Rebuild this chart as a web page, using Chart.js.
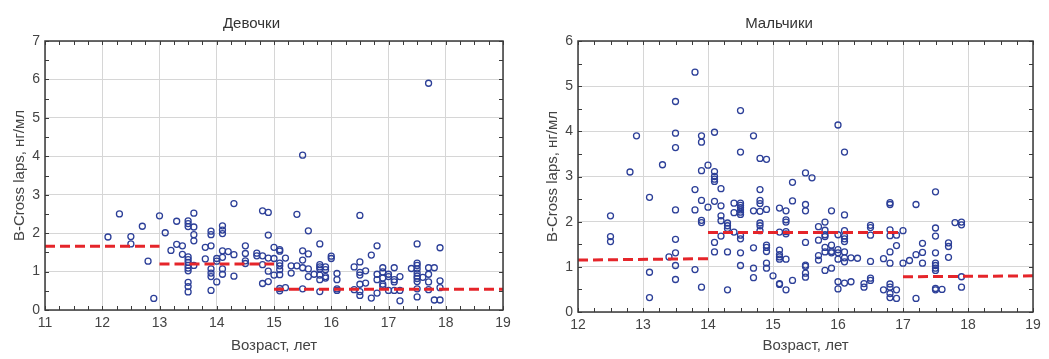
<!DOCTYPE html>
<html lang="ru">
<head>
<meta charset="UTF-8">
<title>B-Cross laps</title>
<style>
  body { margin: 0; background: #fff; }
  .box { position: absolute; top: 0; width: 524px; height: 359px; }
</style>
</head>
<body>
<div class="box" style="left:0"><canvas id="girls" width="524" height="359"></canvas></div>
<div class="box" style="left:525px"><canvas id="boys" width="524" height="359"></canvas></div>

<script src="https://cdn.jsdelivr.net/npm/chart.js"></script>
<script>
// Девочки: возраст -> значения B-Cross laps
const girlsAges = [12.1, 12.3, 12.5, 12.7, 12.8, 12.9, 13.0, 13.1, 13.2, 13.3, 13.4, 13.5, 13.6, 13.8, 13.9,
  14.0, 14.1, 14.2, 14.3, 14.5, 14.7, 14.8, 14.9, 15.0, 15.1, 15.2, 15.3, 15.4, 15.5, 15.6, 15.7, 15.8, 15.9,
  16.0, 16.1, 16.4, 16.5, 16.6, 16.7, 16.8, 16.9, 17.0, 17.1, 17.2, 17.4, 17.5, 17.6, 17.7, 17.8, 17.9];
const girlsValues = [
  [1.90], [2.50], [1.91, 1.72], [2.18], [1.27], [0.30], [2.45], [2.01], [1.55], [2.31, 1.71], [1.67, 1.45],
  [2.32, 2.25, 2.17, 1.38, 1.31, 1.24, 1.16, 1.09, 1.02, 0.72, 0.61, 0.47],
  [2.52, 2.16, 1.96, 1.80, 1.16], [1.63, 1.33], [2.05, 1.96, 1.67, 1.07, 0.96, 0.87, 0.51],
  [1.34, 1.27, 0.73], [2.19, 2.08, 1.99, 1.54, 1.37, 1.07, 0.93], [1.52], [2.77, 1.44, 0.88],
  [1.67, 1.47, 1.28, 1.21], [1.48, 1.41], [2.58, 1.41, 1.18, 0.69], [2.54, 1.95, 1.35, 1.01, 0.74],
  [1.63, 1.34, 0.91], [1.57, 1.53, 1.22, 1.15, 1.05, 0.92, 0.56, 0.50], [1.35, 0.58], [1.15, 0.96],
  [2.49, 1.15], [4.03, 1.54, 1.30, 1.10, 0.55], [2.06, 1.46, 1.07, 0.87], [0.93],
  [1.72, 1.18, 1.12, 1.07, 0.91, 0.79, 0.48], [1.12, 1.05, 0.87, 0.83],
  [1.40, 1.34], [0.95, 0.79, 0.55, 0.51], [1.12, 0.53], [2.46, 1.25, 0.98, 0.91, 0.67, 0.48, 0.38],
  [1.02, 0.70], [1.43, 0.31], [1.67, 0.93, 0.79, 0.44], [1.10, 0.99, 0.83, 0.67, 0.62], [0.93, 0.87, 0.51],
  [1.10, 0.79, 0.73, 0.51], [0.87, 0.51, 0.24], [1.08],
  [1.72, 1.22, 1.16, 1.07, 0.96, 0.88, 0.82, 0.74, 0.55, 0.34], [0.85], [5.90, 1.10, 0.93, 0.73, 0.53],
  [1.10, 0.26], [1.62, 0.76, 0.58, 0.26]
];
// средние по возрастным группам (начало, конец)
const girlsMeanX = [[11, 13], [13, 15], [15, 19]];
const girlsMeanY = [[1.66, 1.66], [1.20, 1.20], [0.54, 0.54]];

// Мальчики
const boysAges = [12.5, 12.8, 12.9, 13.1, 13.3, 13.4, 13.5, 13.8, 13.9, 14.0, 14.1, 14.2, 14.3, 14.4, 14.5,
  14.7, 14.8, 14.9, 15.0, 15.1, 15.2, 15.3, 15.5, 15.6, 15.7, 15.8, 15.9, 16.0, 16.1, 16.2, 16.3, 16.4, 16.5,
  16.7, 16.8, 16.9, 17.0, 17.1, 17.2, 17.3, 17.5, 17.6, 17.7, 17.8, 17.9];
const boysValues = [
  [2.13, 1.67, 1.56], [3.10], [3.90], [2.54, 0.88, 0.32], [3.26], [1.22],
  [4.66, 3.96, 3.64, 2.26, 1.61, 1.31, 1.03, 0.72], [5.31, 2.71, 2.26, 0.94],
  [3.90, 3.76, 3.13, 2.47, 2.03, 1.98, 0.55], [3.25, 2.32],
  [3.98, 3.11, 3.00, 2.94, 2.89, 2.45, 1.54, 1.33], [2.73, 2.35, 2.13, 2.02, 1.68],
  [1.97, 1.91, 1.85, 1.33, 0.49], [2.41, 2.20, 1.77],
  [4.46, 3.54, 2.41, 2.36, 2.31, 2.26, 2.21, 2.16, 1.70, 1.62, 1.31, 1.03],
  [3.90, 2.24, 1.42, 0.97, 0.76], [3.40, 2.71, 2.47, 2.40, 2.23, 1.97, 1.91, 1.80],
  [3.38, 2.27, 1.48, 1.43, 1.34, 1.08, 0.97], [0.80],
  [2.30, 1.77, 1.37, 1.27, 1.22, 1.17, 0.63, 0.61], [2.24, 2.04, 1.99, 1.78, 1.73, 1.17, 0.49],
  [2.87, 2.46, 0.70], [3.08, 2.38, 2.24, 1.54, 1.04, 1.01, 0.86, 0.77], [2.97],
  [1.89, 1.59, 1.25, 1.15], [1.99, 1.81, 1.71, 1.67, 1.43, 1.33, 0.92], [2.24, 1.48, 1.34, 1.31, 0.97],
  [4.14, 1.71, 1.38, 1.31, 1.17, 0.67, 0.51], [3.54, 2.15, 1.80, 1.68, 1.62, 1.56, 1.33, 1.20, 1.11, 0.64],
  [1.20, 0.67], [1.19], [0.63, 0.55], [1.92, 1.87, 1.70, 1.12, 0.75, 0.70],
  [1.18, 0.49], [2.42, 2.38, 1.82, 1.69, 1.33, 1.08, 0.62, 0.55, 0.41, 0.32], [1.70, 1.47, 0.49, 0.30],
  [1.80, 1.08], [1.14], [2.38, 1.27, 0.30], [1.52, 1.32, 1.08],
  [2.66, 1.86, 1.68, 1.31, 1.08, 1.03, 0.97, 0.92, 0.52, 0.49], [0.50], [1.53, 1.45, 1.21], [1.98],
  [1.99, 1.93, 0.78, 0.55]
];
const boysMeanX = [[12, 14], [14, 17], [17, 19]];
const boysMeanY = [[1.15, 1.18], [1.76, 1.76], [0.78, 0.80]];

const FONT = "'Liberation Sans', Arial, sans-serif";
const BLUE = '#2c3f98';
const RED = '#e5252a';

function toPoints(ages, values) {
  let pts = [];
  ages.forEach(function (a, i) {
    values[i].forEach(function (v) { pts.push({ x: a, y: v }); });
  });
  return pts;
}

// рамка и мелкие засечки внутрь
const framePlugin = {
  id: 'frame',
  afterDraw(chart) {
    const c = chart.ctx, a = chart.chartArea;
    const xs = chart.scales.x, ys = chart.scales.y;
    c.save();
    c.strokeStyle = '#3a3a3a';
    c.lineWidth = 1;
    c.beginPath();
    for (let v = xs.min; v <= xs.max + 0.001; v += 0.25) {
      const px = Math.round(xs.getPixelForValue(v)) + 0.5;
      c.moveTo(px, a.bottom); c.lineTo(px, a.bottom - 4);
      c.moveTo(px, a.top); c.lineTo(px, a.top + 4);
    }
    for (let v = ys.min; v <= ys.max + 0.001; v += 0.5) {
      const py = Math.round(ys.getPixelForValue(v)) + 0.5;
      c.moveTo(a.left, py); c.lineTo(a.left + 4, py);
      c.moveTo(a.right, py); c.lineTo(a.right - 4, py);
    }
    c.stroke();
    c.lineWidth = 1.5;
    c.strokeRect(a.left, a.top, a.right - a.left, a.bottom - a.top);
    c.restore();
  }
};

function makeChart(id, title, ages, values, meanX, meanY, xMin, yMax, yWidth, xHeight, padRight, yTitlePad) {
  let datasets = [];
  datasets.push({
    type: 'scatter',
    data: toPoints(ages, values),
    pointStyle: 'circle',
    pointRadius: 3,
    pointBorderWidth: 1.3,
    pointBorderColor: BLUE,
    pointBackgroundColor: 'rgba(255,255,255,0)',
    order: 1
  });
  meanX.forEach(function (seg, i) {
    datasets.push({
      type: 'line',
      data: [{ x: seg[0], y: meanY[i][0] }, { x: seg[1], y: meanY[i][1] }],
      borderColor: RED,
      borderWidth: 3,
      borderDash: [10, 5],
      pointRadius: 0,
      order: 0
    });
  });

  return new Chart(document.getElementById(id), {
    data: { datasets: datasets },
    options: {
      responsive: false,
      animation: false,
      devicePixelRatio: 1,
      layout: { padding: { left: 0, right: padRight, top: 0, bottom: 0 } },
      plugins: {
        legend: { display: false },
        tooltip: { enabled: false },
        title: {
          display: true,
          text: title,
          color: '#333',
          font: { family: FONT, size: 15, weight: 'normal' },
          padding: { top: 15, bottom: 8 }
        }
      },
      scales: {
        x: {
          type: 'linear',
          min: xMin, max: 19,
          ticks: { stepSize: 1, color: '#444', padding: 5, font: { family: FONT, size: 14 } },
          grid: { color: '#d6d6d6', drawTicks: false },
          border: { display: false },
          title: { display: true, text: 'Возраст, лет', color: '#444', padding: { top: 0 },
                   font: { family: FONT, size: 15 } },
          afterFit(s) { s.height = xHeight; }
        },
        y: {
          min: 0, max: yMax,
          ticks: { stepSize: 1, color: '#444', padding: 5, font: { family: FONT, size: 14 } },
          grid: { color: '#d6d6d6', drawTicks: false },
          border: { display: false },
          title: { display: true, text: 'B-Cross laps, нг/мл', color: '#444', padding: { top: yTitlePad, bottom: 0 },
                   font: { family: FONT, size: 15 } },
          afterFit(s) { s.width = yWidth; }
        }
      }
    },
    plugins: [framePlugin]
  });
}

makeChart('girls', 'Девочки', girlsAges, girlsValues, girlsMeanX, girlsMeanY, 11, 7, 45, 49, 21, 11);
makeChart('boys', 'Мальчики', boysAges, boysValues, boysMeanX, boysMeanY, 12, 6, 53, 47, 16, 19);
</script>
</body>
</html>
